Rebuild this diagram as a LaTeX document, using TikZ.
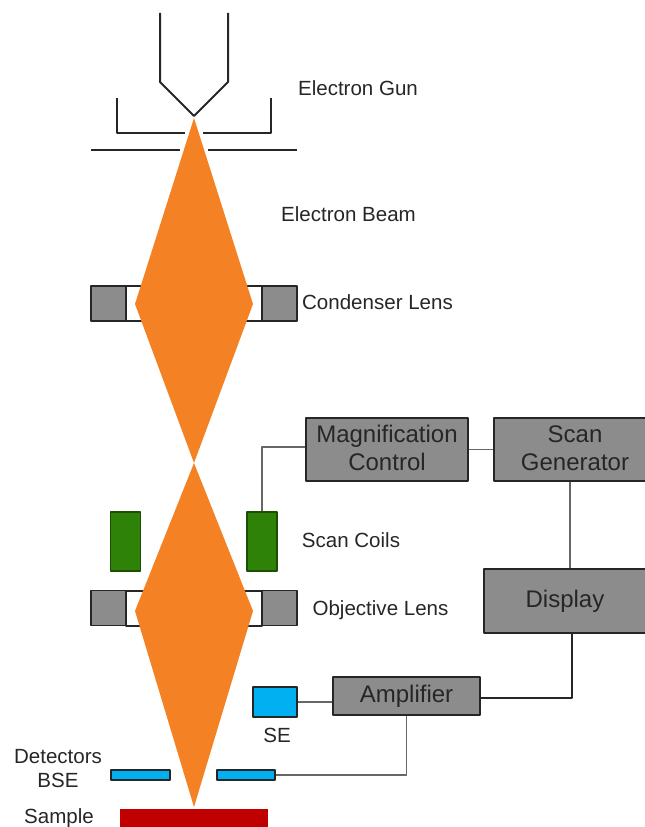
\documentclass[tikz,border=0pt]{standalone}
\usepackage{fontspec}
\setmainfont{Liberation Sans}
\definecolor{beam}{HTML}{F48224}
\definecolor{unitgray}{HTML}{8C8C8C}
\definecolor{coil}{HTML}{2F8208}
\definecolor{detector}{HTML}{00B0F0}
\definecolor{sample}{HTML}{C00000}
\definecolor{ink}{HTML}{262626}
\newcommand{\liftline}{\rule[-2.2pt]{0pt}{0pt}}
\tikzset{
	lbl/.style={text=ink, inner sep=0pt, font=\fontsize{15.4}{18}\selectfont, align=center},
	unit/.style={draw=ink, line width=1pt, fill=unitgray, text=ink, inner sep=0pt, align=center, font=\fontsize{18}{21}\selectfont},
	lensblock/.style={draw=ink, line width=1.4pt, fill=unitgray, inner sep=0pt, minimum width=26.25pt, minimum height=26.25pt},
	coilbox/.style={draw=coil!60!black, line width=0.9pt, fill=coil, inner sep=0pt, minimum width=22.5pt, minimum height=44.25pt},
	det/.style={draw=ink, line width=0.9pt, fill=detector, inner sep=0pt},
	wire/.style={draw=ink!70, line width=1.4pt},
	metal/.style={draw=ink, line width=1.5pt}
}
\begin{document}
\begin{tikzpicture}[x=0.75pt, y=-0.75pt, line join=round, line cap=butt]
	\useasboundingbox (0,0) rectangle (645,827);
	\clip (0,0) rectangle (645,827);
	\path
	(160,13) coordinate (GL)
	(228,13) coordinate (GR)
	(194,116) coordinate (tip)
	(194,118) coordinate (B1)
	(253,304) coordinate (B2)
	(194,463) coordinate (B3)
	(253,611) coordinate (B4)
	(194,807) coordinate (B5)
	(135,611) coordinate (B6)
	(135,304) coordinate (B7)
	;
	% gun
	\draw[metal] (GL)--(160,82)--(tip)--(228,82)--(GR);
	\draw[metal] (117,98)--(117,133)--(185,133);
	\draw[metal] (203,133)--(271,133)--(271,98);
	\draw[metal] (91,150)--(180,150);
	\draw[metal] (208,150)--(297,150);
	% lenses
	\foreach \y/\n in {303.5/cond, 608/obj}{
		\draw[metal, fill=white] (126,\y-17.5) rectangle (262,\y+17.5);
		\node[lensblock] (\n L) at (108.5,\y) {};
		\node[lensblock] (\n R) at (279.5,\y) {};
	}
	% beam
	\fill[beam] (B1)--(B2)--(B3)--(B4)--(B5)--(B6)--(B3)--(B7)--cycle;
	% coils
	\node[coilbox] (coilL) at (125.5,541.5) {};
	\node[coilbox] (coilR) at (262,541.5) {};
	% control units
	\node[unit, minimum width=121.5pt, minimum height=47.25pt] (magnification) at (387,449.5) {Magnification\\Control\liftline};
	\node[unit, minimum width=121.5pt, minimum height=47.25pt] (scangen) at (575,449.5) {Scan\\Generator\liftline};
	\node[unit, minimum width=121.5pt, minimum height=48pt] (display) at (565,601) {Display};
	\node[unit, minimum width=110.25pt, minimum height=28.5pt] (amplifier) at (406.5,696) {Amplifier};
	% detectors
	\node[det, minimum width=33pt, minimum height=22.5pt] (se) at (275,702) {};
	\node[det, minimum width=44.25pt, minimum height=7.5pt] (bseL) at (140.5,775) {};
	\node[det, minimum width=43.5pt, minimum height=7.5pt] (bseR) at (246,775) {};
	\node[fill=sample, inner sep=0pt, minimum width=111pt, minimum height=15pt] (samplebar) at (194,819) {};
	% wires
	\draw[wire] (coilR.north) |- ([yshift=1.9pt]magnification.west);
	\draw[wire] (magnification.east) -- (scangen.west);
	\draw[wire] ([xshift=-3.75pt]scangen.south) -- ([xshift=3.75pt]display.north);
	\draw[wire, draw=ink] ([xshift=5.25pt]display.south) |- ([yshift=-1.5pt]amplifier.east);
	\draw[wire] (se.east) -- (se.east -| amplifier.west);
	\draw[wire] (bseR.east) -| (amplifier.south);
	% labels
	\node[lbl] (gunlabel) at (358,88) {Electron Gun};
	\node[lbl] (beamlabel) at (348.5,214) {Electron Beam};
	\node[lbl] (condlabel) at (377.5,302) {Condenser Lens};
	\node[lbl] (coillabel) at (351,540) {Scan Coils};
	\node[lbl] (objlabel) at (380.5,610) {Objective Lens};
	\node[lbl] (selabel) at (277,735) {SE};
	\node[lbl] (detlabel) at (58,769) {Detectors\\BSE};
	\node[lbl] (samplelabel) at (59,818) {Sample};
\end{tikzpicture}
\end{document}
